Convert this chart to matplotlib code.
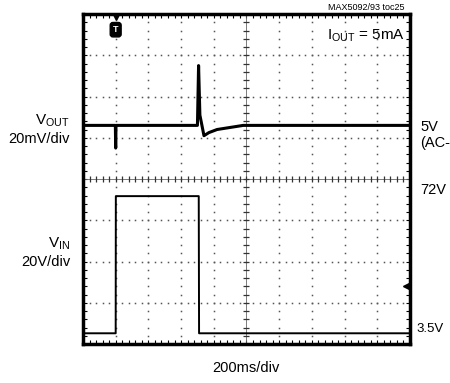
import numpy as np
import matplotlib
matplotlib.use("Agg")
import matplotlib.pyplot as plt

plt.rcParams['font.family'] = ['Liberation Sans', 'DejaVu Sans']
plt.rcParams['mathtext.fontset'] = 'custom'
plt.rcParams['mathtext.rm'] = 'Liberation Sans'

# scope settings
t_per_div = 200.0      # ms/div
vout_per_div = 20.0    # mV/div
vin_per_div = 20.0     # V/div
trig_div = 1.0         # trigger position (divisions from left)
vout_zero_div = 1.3    # VOUT baseline, divisions from centre
vin_zero_div = -3.915  # VIN 0 V level, divisions from centre

# VOUT (AC-coupled, mV) vs time (ms after trigger)
vout_t = [-200, -2, 0, 2, 500, 507, 515, 540, 570, 620, 700, 780, 1800]
vout_mv = [0, 0, -11, 0, 0, 29, 5, -5, -3.5, -2, -1, 0, 0]

# VIN (V) vs time (ms after trigger)
vin_t = [-200, 0, 1, 508, 510, 1800]
vin_v = [3.5, 3.5, 70, 70, 3.5, 3.5]

fig = plt.figure(figsize=(4.5, 3.83), dpi=100)
ax = fig.add_axes([0.1844, 0.1018, 0.7267, 0.8616])
ax.set_xlim(0, 10)
ax.set_ylim(-4, 4)

# graticule dots
for k in range(1, 10):
    if k == 5:
        continue
    ys = np.arange(-4, 4.01, 0.2)
    ax.plot(np.full_like(ys, k), ys, ls='none', marker='s', ms=1.1, color='#555555', mew=0)
for k in range(-3, 4):
    if k == 0:
        continue
    xs = np.arange(0, 10.01, 0.2)
    ax.plot(xs, np.full_like(xs, k), ls='none', marker='s', ms=1.1, color='#555555', mew=0)

# centre cross with ticks
ax.axhline(0, color='#666666', lw=0.6)
ax.axvline(5, color='#666666', lw=0.6)
xs = np.arange(0, 10.01, 0.2)
ax.plot(xs, np.zeros_like(xs), ls='none', marker='|', ms=5, mew=0.9, color='#333333')
ys = np.arange(-4, 4.01, 0.2)
ax.plot(np.full_like(ys, 5), ys, ls='none', marker='_', ms=5, mew=0.9, color='#333333')

# traces
tx = trig_div + np.array(vout_t) / t_per_div
ax.plot(tx, vout_zero_div + np.array(vout_mv) / vout_per_div, color='black', lw=2.2)
tx = trig_div + np.array(vin_t) / t_per_div
ax.plot(tx, vin_zero_div + np.array(vin_v) / vin_per_div, color='black', lw=1.4)

# trigger marker
ax.plot([trig_div], [3.93], marker='v', ms=5, color='black', clip_on=False)
ax.text(trig_div, 3.62, 'T', ha='center', va='center', color='white', fontsize=6.5,
        fontweight='bold',
        bbox=dict(boxstyle='round,pad=0.3,rounding_size=0.3', fc='black', ec='black'))
# channel marker on the right
ax.plot([9.88], [-2.6], marker='<', ms=5, color='black')

ax.xaxis.set_major_locator(plt.MultipleLocator(1))
ax.xaxis.set_minor_locator(plt.MultipleLocator(0.2))
ax.yaxis.set_major_locator(plt.MultipleLocator(1))
ax.yaxis.set_minor_locator(plt.MultipleLocator(0.2))
ax.tick_params(which='both', direction='in', length=3, width=0.8, top=True, right=True,
               labelbottom=False, labelleft=False)
for s in ax.spines.values():
    s.set_linewidth(2.5)

ax.text(8.65, 3.48, r'$\mathrm{I_{OUT}}$ = 5mA', ha='center', va='center', fontsize=11)

fs = 10.5
fig.text(70/450, 1-121/383, r'$\mathrm{V_{OUT}}$', ha='right', va='center', fontsize=fs + 0.5)
fig.text(70/450, 1-139/383, '20mV/div', ha='right', va='center', fontsize=fs)
fig.text(70/450, 1-244/383, r'$\mathrm{V_{IN}}$', ha='right', va='center', fontsize=fs + 0.5)
fig.text(70/450, 1-262/383, '20V/div', ha='right', va='center', fontsize=fs)
fig.text(420/450, 1-127/383, '5V', ha='left', va='center', fontsize=fs)
fig.text(420/450, 1-143/383, '(AC-COUPLED)', ha='left', va='center', fontsize=fs)
fig.text(420/450, 1-190/383, '72V', ha='left', va='center', fontsize=fs)
fig.text(416/450, 1-329/383, '3.5V', ha='left', va='center', fontsize=9.5)
fig.text(246/450, 1-368/383, '200ms/div', ha='center', va='center', fontsize=fs)
fig.text(405/450, 1-7/383, 'MAX5092/93 toc25', ha='right', va='center', fontsize=6.5)

fig.savefig('out.png', dpi=100)
